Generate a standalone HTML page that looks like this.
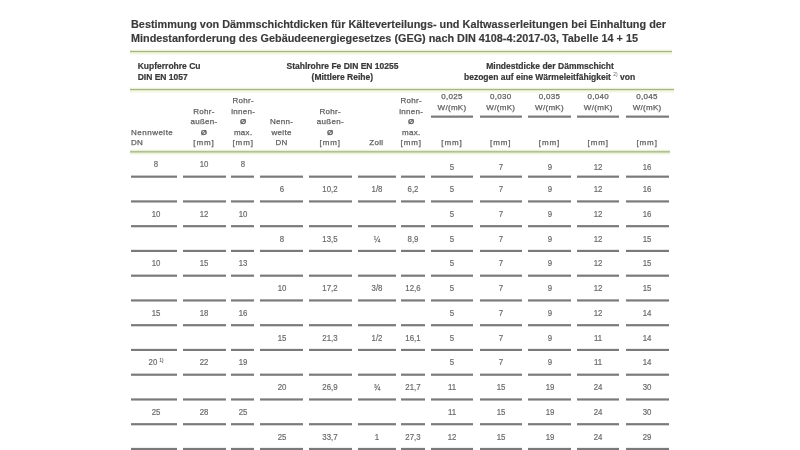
<!DOCTYPE html>
<html lang="de"><head><meta charset="utf-8"><title>Dämmschichtdicken</title>
<style>
html,body{margin:0;padding:0;background:#fff;}
body{width:800px;height:450px;overflow:hidden;font-family:"Liberation Sans", Arial, sans-serif;}
#pg{position:relative;width:800px;height:450px;overflow:hidden;background:#fff;}
.t{position:absolute;white-space:nowrap;}
.r{position:absolute;}
.u{position:absolute;height:1px;}
</style></head><body><div id="pg">
<div class="t" style="left:131.30px;top:17.79px;font-size:11px;line-height:12px;color:#3a3a3a;font-weight:700;transform:scaleX(0.988);transform-origin:left 0;-webkit-text-stroke:0.15px #3a3a3a;">Bestimmung von Dämmschichtdicken für Kälteverteilungs- und Kaltwasserleitungen bei Einhaltung der</div>
<div class="t" style="left:131.30px;top:31.59px;font-size:11px;line-height:12px;color:#3a3a3a;font-weight:700;transform:scaleX(0.986);transform-origin:left 0;-webkit-text-stroke:0.15px #3a3a3a;">Mindestanforderung des Gebäudeenergiegesetzes (GEG) nach DIN 4108-4:2017-03, Tabelle 14 + 15</div>
<div class="r" style="left:130px;top:49px;width:542px;height:1px;background:#fafcf1;"></div>
<div class="r" style="left:130px;top:50px;width:542px;height:1px;background:#e9f1d4;"></div>
<div class="r" style="left:130px;top:51px;width:542px;height:1px;background:#a6b38c;"></div>
<div class="r" style="left:130px;top:52px;width:542px;height:1px;background:#e4edca;"></div>
<div class="r" style="left:130px;top:53px;width:542px;height:1px;background:#f1f7e0;"></div>
<div class="r" style="left:130px;top:54px;width:542px;height:1px;background:#f9fbef;"></div>
<div class="r" style="left:130px;top:87px;width:544px;height:1px;background:#fafcf1;"></div>
<div class="r" style="left:130px;top:88px;width:544px;height:1px;background:#e9f1d4;"></div>
<div class="r" style="left:130px;top:89px;width:544px;height:1px;background:#a6b38c;"></div>
<div class="r" style="left:130px;top:90px;width:544px;height:1px;background:#e4edca;"></div>
<div class="r" style="left:130px;top:91px;width:544px;height:1px;background:#f1f7e0;"></div>
<div class="r" style="left:130px;top:92px;width:544px;height:1px;background:#f9fbef;"></div>
<div class="r" style="left:130px;top:149px;width:540px;height:1px;background:#f9fbf0;"></div>
<div class="r" style="left:130px;top:150px;width:540px;height:1px;background:#e8efd2;"></div>
<div class="r" style="left:130px;top:151px;width:540px;height:1px;background:#b3bf9b;"></div>
<div class="r" style="left:130px;top:152px;width:540px;height:1px;background:#c8d3b0;"></div>
<div class="r" style="left:130px;top:153px;width:540px;height:1px;background:#ecf3da;"></div>
<div class="r" style="left:130px;top:154px;width:540px;height:1px;background:#f7faec;"></div>
<div class="t" style="left:137.70px;top:59.95px;font-size:8.5px;line-height:12px;color:#383838;font-weight:700;-webkit-text-stroke:0.2px #383838;">Kupferrohre Cu</div>
<div class="t" style="left:137.70px;top:70.55px;font-size:8.5px;line-height:12px;color:#383838;font-weight:700;-webkit-text-stroke:0.2px #383838;">DIN EN 1057</div>
<div class="t" style="left:142.50px;top:59.95px;width:400px;text-align:center;font-size:8.5px;line-height:12px;color:#383838;font-weight:700;-webkit-text-stroke:0.2px #383838;">Stahlrohre Fe DIN EN 10255</div>
<div class="t" style="left:142.30px;top:70.55px;width:400px;text-align:center;font-size:8.5px;line-height:12px;color:#383838;font-weight:700;-webkit-text-stroke:0.2px #383838;">(Mittlere Reihe)</div>
<div class="t" style="left:350.00px;top:59.95px;width:400px;text-align:center;font-size:8.5px;line-height:12px;color:#383838;font-weight:700;-webkit-text-stroke:0.2px #383838;">Mindestdicke der Dämmschicht</div>
<div class="t" style="left:349.60px;top:70.55px;width:400px;text-align:center;font-size:8.5px;line-height:12px;color:#383838;font-weight:700;-webkit-text-stroke:0.2px #383838;">bezogen auf eine Wärmeleitfähigkeit <span style="font-size:5px;font-weight:400;position:relative;top:-3.5px;color:#666;-webkit-text-stroke:0">2)</span> von</div>
<div class="t" style="left:131.00px;top:126.73px;font-size:8px;line-height:12px;color:#5f5f5f;letter-spacing:0.3px;-webkit-text-stroke:0.25px #5f5f5f;letter-spacing:0.5px;">Nennweite</div>
<div class="t" style="left:131.00px;top:137.33px;font-size:8px;line-height:12px;color:#5f5f5f;letter-spacing:0.3px;-webkit-text-stroke:0.25px #5f5f5f;">DN</div>
<div class="t" style="left:4.00px;top:105.53px;width:400px;text-align:center;font-size:8px;line-height:12px;color:#5f5f5f;letter-spacing:0.3px;-webkit-text-stroke:0.25px #5f5f5f;">Rohr-</div>
<div class="t" style="left:4.00px;top:116.13px;width:400px;text-align:center;font-size:8px;line-height:12px;color:#5f5f5f;letter-spacing:0.3px;-webkit-text-stroke:0.25px #5f5f5f;">außen-</div>
<div class="t" style="left:4.00px;top:126.73px;width:400px;text-align:center;font-size:8px;line-height:12px;color:#5f5f5f;letter-spacing:0.3px;-webkit-text-stroke:0.25px #5f5f5f;"><b>Ø</b></div>
<div class="t" style="left:4.00px;top:137.33px;width:400px;text-align:center;font-size:8px;line-height:12px;color:#5f5f5f;letter-spacing:0.3px;-webkit-text-stroke:0.25px #5f5f5f;"><span style="letter-spacing:0.9px">[mm]</span></div>
<div class="t" style="left:130.30px;top:105.53px;width:400px;text-align:center;font-size:8px;line-height:12px;color:#5f5f5f;letter-spacing:0.3px;-webkit-text-stroke:0.25px #5f5f5f;">Rohr-</div>
<div class="t" style="left:130.30px;top:116.13px;width:400px;text-align:center;font-size:8px;line-height:12px;color:#5f5f5f;letter-spacing:0.3px;-webkit-text-stroke:0.25px #5f5f5f;">außen-</div>
<div class="t" style="left:130.30px;top:126.73px;width:400px;text-align:center;font-size:8px;line-height:12px;color:#5f5f5f;letter-spacing:0.3px;-webkit-text-stroke:0.25px #5f5f5f;"><b>Ø</b></div>
<div class="t" style="left:130.30px;top:137.33px;width:400px;text-align:center;font-size:8px;line-height:12px;color:#5f5f5f;letter-spacing:0.3px;-webkit-text-stroke:0.25px #5f5f5f;"><span style="letter-spacing:0.9px">[mm]</span></div>
<div class="t" style="left:43.20px;top:94.93px;width:400px;text-align:center;font-size:8px;line-height:12px;color:#5f5f5f;letter-spacing:0.3px;-webkit-text-stroke:0.25px #5f5f5f;">Rohr-</div>
<div class="t" style="left:43.20px;top:105.53px;width:400px;text-align:center;font-size:8px;line-height:12px;color:#5f5f5f;letter-spacing:0.3px;-webkit-text-stroke:0.25px #5f5f5f;">innen-</div>
<div class="t" style="left:43.20px;top:116.13px;width:400px;text-align:center;font-size:8px;line-height:12px;color:#5f5f5f;letter-spacing:0.3px;-webkit-text-stroke:0.25px #5f5f5f;"><b>Ø</b></div>
<div class="t" style="left:43.20px;top:126.73px;width:400px;text-align:center;font-size:8px;line-height:12px;color:#5f5f5f;letter-spacing:0.3px;-webkit-text-stroke:0.25px #5f5f5f;">max.</div>
<div class="t" style="left:43.20px;top:137.33px;width:400px;text-align:center;font-size:8px;line-height:12px;color:#5f5f5f;letter-spacing:0.3px;-webkit-text-stroke:0.25px #5f5f5f;"><span style="letter-spacing:0.9px">[mm]</span></div>
<div class="t" style="left:211.30px;top:94.93px;width:400px;text-align:center;font-size:8px;line-height:12px;color:#5f5f5f;letter-spacing:0.3px;-webkit-text-stroke:0.25px #5f5f5f;">Rohr-</div>
<div class="t" style="left:211.30px;top:105.53px;width:400px;text-align:center;font-size:8px;line-height:12px;color:#5f5f5f;letter-spacing:0.3px;-webkit-text-stroke:0.25px #5f5f5f;">innen-</div>
<div class="t" style="left:211.30px;top:116.13px;width:400px;text-align:center;font-size:8px;line-height:12px;color:#5f5f5f;letter-spacing:0.3px;-webkit-text-stroke:0.25px #5f5f5f;"><b>Ø</b></div>
<div class="t" style="left:211.30px;top:126.73px;width:400px;text-align:center;font-size:8px;line-height:12px;color:#5f5f5f;letter-spacing:0.3px;-webkit-text-stroke:0.25px #5f5f5f;">max.</div>
<div class="t" style="left:211.30px;top:137.33px;width:400px;text-align:center;font-size:8px;line-height:12px;color:#5f5f5f;letter-spacing:0.3px;-webkit-text-stroke:0.25px #5f5f5f;"><span style="letter-spacing:0.9px">[mm]</span></div>
<div class="t" style="left:81.60px;top:116.13px;width:400px;text-align:center;font-size:8px;line-height:12px;color:#5f5f5f;letter-spacing:0.3px;-webkit-text-stroke:0.25px #5f5f5f;">Nenn-</div>
<div class="t" style="left:81.60px;top:126.73px;width:400px;text-align:center;font-size:8px;line-height:12px;color:#5f5f5f;letter-spacing:0.3px;-webkit-text-stroke:0.25px #5f5f5f;">weite</div>
<div class="t" style="left:81.60px;top:137.33px;width:400px;text-align:center;font-size:8px;line-height:12px;color:#5f5f5f;letter-spacing:0.3px;-webkit-text-stroke:0.25px #5f5f5f;">DN</div>
<div class="t" style="left:176.40px;top:137.33px;width:400px;text-align:center;font-size:8px;line-height:12px;color:#5f5f5f;letter-spacing:0.3px;-webkit-text-stroke:0.25px #5f5f5f;">Zoll</div>
<div class="t" style="left:252.00px;top:90.93px;width:400px;text-align:center;font-size:8px;line-height:12px;color:#5f5f5f;letter-spacing:0.3px;-webkit-text-stroke:0.25px #5f5f5f;">0,025</div>
<div class="t" style="left:252.00px;top:101.63px;width:400px;text-align:center;font-size:8px;line-height:12px;color:#5f5f5f;letter-spacing:0.3px;-webkit-text-stroke:0.25px #5f5f5f;">W/(mK)</div>
<div class="t" style="left:252.00px;top:137.33px;width:400px;text-align:center;font-size:8px;line-height:12px;color:#5f5f5f;letter-spacing:0.3px;-webkit-text-stroke:0.25px #5f5f5f;letter-spacing:0.9px;">[mm]</div>
<div class="t" style="left:300.80px;top:90.93px;width:400px;text-align:center;font-size:8px;line-height:12px;color:#5f5f5f;letter-spacing:0.3px;-webkit-text-stroke:0.25px #5f5f5f;">0,030</div>
<div class="t" style="left:300.80px;top:101.63px;width:400px;text-align:center;font-size:8px;line-height:12px;color:#5f5f5f;letter-spacing:0.3px;-webkit-text-stroke:0.25px #5f5f5f;">W/(mK)</div>
<div class="t" style="left:300.80px;top:137.33px;width:400px;text-align:center;font-size:8px;line-height:12px;color:#5f5f5f;letter-spacing:0.3px;-webkit-text-stroke:0.25px #5f5f5f;letter-spacing:0.9px;">[mm]</div>
<div class="t" style="left:349.50px;top:90.93px;width:400px;text-align:center;font-size:8px;line-height:12px;color:#5f5f5f;letter-spacing:0.3px;-webkit-text-stroke:0.25px #5f5f5f;">0,035</div>
<div class="t" style="left:349.50px;top:101.63px;width:400px;text-align:center;font-size:8px;line-height:12px;color:#5f5f5f;letter-spacing:0.3px;-webkit-text-stroke:0.25px #5f5f5f;">W/(mK)</div>
<div class="t" style="left:349.50px;top:137.33px;width:400px;text-align:center;font-size:8px;line-height:12px;color:#5f5f5f;letter-spacing:0.3px;-webkit-text-stroke:0.25px #5f5f5f;letter-spacing:0.9px;">[mm]</div>
<div class="t" style="left:398.30px;top:90.93px;width:400px;text-align:center;font-size:8px;line-height:12px;color:#5f5f5f;letter-spacing:0.3px;-webkit-text-stroke:0.25px #5f5f5f;">0,040</div>
<div class="t" style="left:398.30px;top:101.63px;width:400px;text-align:center;font-size:8px;line-height:12px;color:#5f5f5f;letter-spacing:0.3px;-webkit-text-stroke:0.25px #5f5f5f;">W/(mK)</div>
<div class="t" style="left:398.30px;top:137.33px;width:400px;text-align:center;font-size:8px;line-height:12px;color:#5f5f5f;letter-spacing:0.3px;-webkit-text-stroke:0.25px #5f5f5f;letter-spacing:0.9px;">[mm]</div>
<div class="t" style="left:447.10px;top:90.93px;width:400px;text-align:center;font-size:8px;line-height:12px;color:#5f5f5f;letter-spacing:0.3px;-webkit-text-stroke:0.25px #5f5f5f;">0,045</div>
<div class="t" style="left:447.10px;top:101.63px;width:400px;text-align:center;font-size:8px;line-height:12px;color:#5f5f5f;letter-spacing:0.3px;-webkit-text-stroke:0.25px #5f5f5f;">W/(mK)</div>
<div class="t" style="left:447.10px;top:137.33px;width:400px;text-align:center;font-size:8px;line-height:12px;color:#5f5f5f;letter-spacing:0.3px;-webkit-text-stroke:0.25px #5f5f5f;letter-spacing:0.9px;">[mm]</div>
<div class="u" style="left:431px;top:116px;width:42px;background:#7a7a7a;box-shadow:0 -1px 0 #c3c3c3,0 1px 0 #9b9b9b"></div>
<div class="u" style="left:480px;top:116px;width:42px;background:#7a7a7a;box-shadow:0 -1px 0 #c3c3c3,0 1px 0 #9b9b9b"></div>
<div class="u" style="left:528px;top:116px;width:43px;background:#7a7a7a;box-shadow:0 -1px 0 #c3c3c3,0 1px 0 #9b9b9b"></div>
<div class="u" style="left:577px;top:116px;width:42px;background:#7a7a7a;box-shadow:0 -1px 0 #c3c3c3,0 1px 0 #9b9b9b"></div>
<div class="u" style="left:626px;top:116px;width:43px;background:#7a7a7a;box-shadow:0 -1px 0 #c3c3c3,0 1px 0 #9b9b9b"></div>
<div class="t" style="left:-43.80px;top:158.38px;width:400px;text-align:center;font-size:9px;line-height:12px;color:#6a6a6a;transform:scaleX(0.87);transform-origin:center 0;-webkit-text-stroke:0.2px #6a6a6a;">8</div>
<div class="t" style="left:4.30px;top:158.38px;width:400px;text-align:center;font-size:9px;line-height:12px;color:#6a6a6a;transform:scaleX(0.87);transform-origin:center 0;-webkit-text-stroke:0.2px #6a6a6a;">10</div>
<div class="t" style="left:42.90px;top:158.38px;width:400px;text-align:center;font-size:9px;line-height:12px;color:#6a6a6a;transform:scaleX(0.87);transform-origin:center 0;-webkit-text-stroke:0.2px #6a6a6a;">8</div>
<div class="t" style="left:252.00px;top:161.38px;width:400px;text-align:center;font-size:9px;line-height:12px;color:#6a6a6a;transform:scaleX(0.87);transform-origin:center 0;-webkit-text-stroke:0.2px #6a6a6a;">5</div>
<div class="t" style="left:300.80px;top:161.38px;width:400px;text-align:center;font-size:9px;line-height:12px;color:#6a6a6a;transform:scaleX(0.87);transform-origin:center 0;-webkit-text-stroke:0.2px #6a6a6a;">7</div>
<div class="t" style="left:349.50px;top:161.38px;width:400px;text-align:center;font-size:9px;line-height:12px;color:#6a6a6a;transform:scaleX(0.87);transform-origin:center 0;-webkit-text-stroke:0.2px #6a6a6a;">9</div>
<div class="t" style="left:398.30px;top:161.38px;width:400px;text-align:center;font-size:9px;line-height:12px;color:#6a6a6a;transform:scaleX(0.87);transform-origin:center 0;-webkit-text-stroke:0.2px #6a6a6a;">12</div>
<div class="t" style="left:447.10px;top:161.38px;width:400px;text-align:center;font-size:9px;line-height:12px;color:#6a6a6a;transform:scaleX(0.87);transform-origin:center 0;-webkit-text-stroke:0.2px #6a6a6a;">16</div>
<div class="u" style="left:131px;top:176px;width:46px;background:#7a7a7a;box-shadow:0 -1px 0 #c6c6c6,0 1px 0 #999999"></div>
<div class="u" style="left:183px;top:176px;width:43px;background:#7a7a7a;box-shadow:0 -1px 0 #c6c6c6,0 1px 0 #999999"></div>
<div class="u" style="left:231px;top:176px;width:23px;background:#7a7a7a;box-shadow:0 -1px 0 #c6c6c6,0 1px 0 #999999"></div>
<div class="u" style="left:260px;top:176px;width:43px;background:#7a7a7a;box-shadow:0 -1px 0 #c6c6c6,0 1px 0 #999999"></div>
<div class="u" style="left:309px;top:176px;width:43px;background:#7a7a7a;box-shadow:0 -1px 0 #c6c6c6,0 1px 0 #999999"></div>
<div class="u" style="left:358px;top:176px;width:38px;background:#7a7a7a;box-shadow:0 -1px 0 #c6c6c6,0 1px 0 #999999"></div>
<div class="u" style="left:401px;top:176px;width:24px;background:#7a7a7a;box-shadow:0 -1px 0 #c6c6c6,0 1px 0 #999999"></div>
<div class="u" style="left:431px;top:176px;width:42px;background:#7a7a7a;box-shadow:0 -1px 0 #c6c6c6,0 1px 0 #999999"></div>
<div class="u" style="left:480px;top:176px;width:42px;background:#7a7a7a;box-shadow:0 -1px 0 #c6c6c6,0 1px 0 #999999"></div>
<div class="u" style="left:528px;top:176px;width:43px;background:#7a7a7a;box-shadow:0 -1px 0 #c6c6c6,0 1px 0 #999999"></div>
<div class="u" style="left:577px;top:176px;width:42px;background:#7a7a7a;box-shadow:0 -1px 0 #c6c6c6,0 1px 0 #999999"></div>
<div class="u" style="left:626px;top:176px;width:43px;background:#7a7a7a;box-shadow:0 -1px 0 #c6c6c6,0 1px 0 #999999"></div>
<div class="t" style="left:81.50px;top:183.13px;width:400px;text-align:center;font-size:9px;line-height:12px;color:#6a6a6a;transform:scaleX(0.87);transform-origin:center 0;-webkit-text-stroke:0.2px #6a6a6a;">6</div>
<div class="t" style="left:130.40px;top:183.13px;width:400px;text-align:center;font-size:9px;line-height:12px;color:#6a6a6a;transform:scaleX(0.87);transform-origin:center 0;-webkit-text-stroke:0.2px #6a6a6a;">10,2</div>
<div class="t" style="left:176.80px;top:183.13px;width:400px;text-align:center;font-size:9px;line-height:12px;color:#6a6a6a;transform:scaleX(0.87);transform-origin:center 0;-webkit-text-stroke:0.2px #6a6a6a;">1/8</div>
<div class="t" style="left:213.00px;top:183.13px;width:400px;text-align:center;font-size:9px;line-height:12px;color:#6a6a6a;transform:scaleX(0.87);transform-origin:center 0;-webkit-text-stroke:0.2px #6a6a6a;">6,2</div>
<div class="t" style="left:252.00px;top:183.13px;width:400px;text-align:center;font-size:9px;line-height:12px;color:#6a6a6a;transform:scaleX(0.87);transform-origin:center 0;-webkit-text-stroke:0.2px #6a6a6a;">5</div>
<div class="t" style="left:300.80px;top:183.13px;width:400px;text-align:center;font-size:9px;line-height:12px;color:#6a6a6a;transform:scaleX(0.87);transform-origin:center 0;-webkit-text-stroke:0.2px #6a6a6a;">7</div>
<div class="t" style="left:349.50px;top:183.13px;width:400px;text-align:center;font-size:9px;line-height:12px;color:#6a6a6a;transform:scaleX(0.87);transform-origin:center 0;-webkit-text-stroke:0.2px #6a6a6a;">9</div>
<div class="t" style="left:398.30px;top:183.13px;width:400px;text-align:center;font-size:9px;line-height:12px;color:#6a6a6a;transform:scaleX(0.87);transform-origin:center 0;-webkit-text-stroke:0.2px #6a6a6a;">12</div>
<div class="t" style="left:447.10px;top:183.13px;width:400px;text-align:center;font-size:9px;line-height:12px;color:#6a6a6a;transform:scaleX(0.87);transform-origin:center 0;-webkit-text-stroke:0.2px #6a6a6a;">16</div>
<div class="u" style="left:131px;top:201px;width:46px;background:#7a7a7a;box-shadow:0 -1px 0 #a5a5a5,0 1px 0 #b9b9b9"></div>
<div class="u" style="left:183px;top:201px;width:43px;background:#7a7a7a;box-shadow:0 -1px 0 #a5a5a5,0 1px 0 #b9b9b9"></div>
<div class="u" style="left:231px;top:201px;width:23px;background:#7a7a7a;box-shadow:0 -1px 0 #a5a5a5,0 1px 0 #b9b9b9"></div>
<div class="u" style="left:260px;top:201px;width:43px;background:#7a7a7a;box-shadow:0 -1px 0 #a5a5a5,0 1px 0 #b9b9b9"></div>
<div class="u" style="left:309px;top:201px;width:43px;background:#7a7a7a;box-shadow:0 -1px 0 #a5a5a5,0 1px 0 #b9b9b9"></div>
<div class="u" style="left:358px;top:201px;width:38px;background:#7a7a7a;box-shadow:0 -1px 0 #a5a5a5,0 1px 0 #b9b9b9"></div>
<div class="u" style="left:401px;top:201px;width:24px;background:#7a7a7a;box-shadow:0 -1px 0 #a5a5a5,0 1px 0 #b9b9b9"></div>
<div class="u" style="left:431px;top:201px;width:42px;background:#7a7a7a;box-shadow:0 -1px 0 #a5a5a5,0 1px 0 #b9b9b9"></div>
<div class="u" style="left:480px;top:201px;width:42px;background:#7a7a7a;box-shadow:0 -1px 0 #a5a5a5,0 1px 0 #b9b9b9"></div>
<div class="u" style="left:528px;top:201px;width:43px;background:#7a7a7a;box-shadow:0 -1px 0 #a5a5a5,0 1px 0 #b9b9b9"></div>
<div class="u" style="left:577px;top:201px;width:42px;background:#7a7a7a;box-shadow:0 -1px 0 #a5a5a5,0 1px 0 #b9b9b9"></div>
<div class="u" style="left:626px;top:201px;width:43px;background:#7a7a7a;box-shadow:0 -1px 0 #a5a5a5,0 1px 0 #b9b9b9"></div>
<div class="t" style="left:-43.80px;top:207.87px;width:400px;text-align:center;font-size:9px;line-height:12px;color:#6a6a6a;transform:scaleX(0.87);transform-origin:center 0;-webkit-text-stroke:0.2px #6a6a6a;">10</div>
<div class="t" style="left:4.30px;top:207.87px;width:400px;text-align:center;font-size:9px;line-height:12px;color:#6a6a6a;transform:scaleX(0.87);transform-origin:center 0;-webkit-text-stroke:0.2px #6a6a6a;">12</div>
<div class="t" style="left:42.90px;top:207.87px;width:400px;text-align:center;font-size:9px;line-height:12px;color:#6a6a6a;transform:scaleX(0.87);transform-origin:center 0;-webkit-text-stroke:0.2px #6a6a6a;">10</div>
<div class="t" style="left:252.00px;top:207.87px;width:400px;text-align:center;font-size:9px;line-height:12px;color:#6a6a6a;transform:scaleX(0.87);transform-origin:center 0;-webkit-text-stroke:0.2px #6a6a6a;">5</div>
<div class="t" style="left:300.80px;top:207.87px;width:400px;text-align:center;font-size:9px;line-height:12px;color:#6a6a6a;transform:scaleX(0.87);transform-origin:center 0;-webkit-text-stroke:0.2px #6a6a6a;">7</div>
<div class="t" style="left:349.50px;top:207.87px;width:400px;text-align:center;font-size:9px;line-height:12px;color:#6a6a6a;transform:scaleX(0.87);transform-origin:center 0;-webkit-text-stroke:0.2px #6a6a6a;">9</div>
<div class="t" style="left:398.30px;top:207.87px;width:400px;text-align:center;font-size:9px;line-height:12px;color:#6a6a6a;transform:scaleX(0.87);transform-origin:center 0;-webkit-text-stroke:0.2px #6a6a6a;">12</div>
<div class="t" style="left:447.10px;top:207.87px;width:400px;text-align:center;font-size:9px;line-height:12px;color:#6a6a6a;transform:scaleX(0.87);transform-origin:center 0;-webkit-text-stroke:0.2px #6a6a6a;">16</div>
<div class="u" style="left:131px;top:226px;width:46px;background:#7a7a7a;box-shadow:0 -1px 0 #858585,0 1px 0 #dadada"></div>
<div class="u" style="left:183px;top:226px;width:43px;background:#7a7a7a;box-shadow:0 -1px 0 #858585,0 1px 0 #dadada"></div>
<div class="u" style="left:231px;top:226px;width:23px;background:#7a7a7a;box-shadow:0 -1px 0 #858585,0 1px 0 #dadada"></div>
<div class="u" style="left:260px;top:226px;width:43px;background:#7a7a7a;box-shadow:0 -1px 0 #858585,0 1px 0 #dadada"></div>
<div class="u" style="left:309px;top:226px;width:43px;background:#7a7a7a;box-shadow:0 -1px 0 #858585,0 1px 0 #dadada"></div>
<div class="u" style="left:358px;top:226px;width:38px;background:#7a7a7a;box-shadow:0 -1px 0 #858585,0 1px 0 #dadada"></div>
<div class="u" style="left:401px;top:226px;width:24px;background:#7a7a7a;box-shadow:0 -1px 0 #858585,0 1px 0 #dadada"></div>
<div class="u" style="left:431px;top:226px;width:42px;background:#7a7a7a;box-shadow:0 -1px 0 #858585,0 1px 0 #dadada"></div>
<div class="u" style="left:480px;top:226px;width:42px;background:#7a7a7a;box-shadow:0 -1px 0 #858585,0 1px 0 #dadada"></div>
<div class="u" style="left:528px;top:226px;width:43px;background:#7a7a7a;box-shadow:0 -1px 0 #858585,0 1px 0 #dadada"></div>
<div class="u" style="left:577px;top:226px;width:42px;background:#7a7a7a;box-shadow:0 -1px 0 #858585,0 1px 0 #dadada"></div>
<div class="u" style="left:626px;top:226px;width:43px;background:#7a7a7a;box-shadow:0 -1px 0 #858585,0 1px 0 #dadada"></div>
<div class="t" style="left:81.50px;top:232.62px;width:400px;text-align:center;font-size:9px;line-height:12px;color:#6a6a6a;transform:scaleX(0.87);transform-origin:center 0;-webkit-text-stroke:0.2px #6a6a6a;">8</div>
<div class="t" style="left:130.40px;top:232.62px;width:400px;text-align:center;font-size:9px;line-height:12px;color:#6a6a6a;transform:scaleX(0.87);transform-origin:center 0;-webkit-text-stroke:0.2px #6a6a6a;">13,5</div>
<div class="t" style="left:176.80px;top:232.62px;width:400px;text-align:center;font-size:9px;line-height:12px;color:#6a6a6a;transform:scaleX(0.87);transform-origin:center 0;-webkit-text-stroke:0.2px #6a6a6a;">¼</div>
<div class="t" style="left:213.00px;top:232.62px;width:400px;text-align:center;font-size:9px;line-height:12px;color:#6a6a6a;transform:scaleX(0.87);transform-origin:center 0;-webkit-text-stroke:0.2px #6a6a6a;">8,9</div>
<div class="t" style="left:252.00px;top:232.62px;width:400px;text-align:center;font-size:9px;line-height:12px;color:#6a6a6a;transform:scaleX(0.87);transform-origin:center 0;-webkit-text-stroke:0.2px #6a6a6a;">5</div>
<div class="t" style="left:300.80px;top:232.62px;width:400px;text-align:center;font-size:9px;line-height:12px;color:#6a6a6a;transform:scaleX(0.87);transform-origin:center 0;-webkit-text-stroke:0.2px #6a6a6a;">7</div>
<div class="t" style="left:349.50px;top:232.62px;width:400px;text-align:center;font-size:9px;line-height:12px;color:#6a6a6a;transform:scaleX(0.87);transform-origin:center 0;-webkit-text-stroke:0.2px #6a6a6a;">9</div>
<div class="t" style="left:398.30px;top:232.62px;width:400px;text-align:center;font-size:9px;line-height:12px;color:#6a6a6a;transform:scaleX(0.87);transform-origin:center 0;-webkit-text-stroke:0.2px #6a6a6a;">12</div>
<div class="t" style="left:447.10px;top:232.62px;width:400px;text-align:center;font-size:9px;line-height:12px;color:#6a6a6a;transform:scaleX(0.87);transform-origin:center 0;-webkit-text-stroke:0.2px #6a6a6a;">15</div>
<div class="u" style="left:131px;top:250px;width:46px;background:#7a7a7a;box-shadow:0 -1px 0 #e9e9e9,0 1px 0 #7a7a7a"></div>
<div class="u" style="left:183px;top:250px;width:43px;background:#7a7a7a;box-shadow:0 -1px 0 #e9e9e9,0 1px 0 #7a7a7a"></div>
<div class="u" style="left:231px;top:250px;width:23px;background:#7a7a7a;box-shadow:0 -1px 0 #e9e9e9,0 1px 0 #7a7a7a"></div>
<div class="u" style="left:260px;top:250px;width:43px;background:#7a7a7a;box-shadow:0 -1px 0 #e9e9e9,0 1px 0 #7a7a7a"></div>
<div class="u" style="left:309px;top:250px;width:43px;background:#7a7a7a;box-shadow:0 -1px 0 #e9e9e9,0 1px 0 #7a7a7a"></div>
<div class="u" style="left:358px;top:250px;width:38px;background:#7a7a7a;box-shadow:0 -1px 0 #e9e9e9,0 1px 0 #7a7a7a"></div>
<div class="u" style="left:401px;top:250px;width:24px;background:#7a7a7a;box-shadow:0 -1px 0 #e9e9e9,0 1px 0 #7a7a7a"></div>
<div class="u" style="left:431px;top:250px;width:42px;background:#7a7a7a;box-shadow:0 -1px 0 #e9e9e9,0 1px 0 #7a7a7a"></div>
<div class="u" style="left:480px;top:250px;width:42px;background:#7a7a7a;box-shadow:0 -1px 0 #e9e9e9,0 1px 0 #7a7a7a"></div>
<div class="u" style="left:528px;top:250px;width:43px;background:#7a7a7a;box-shadow:0 -1px 0 #e9e9e9,0 1px 0 #7a7a7a"></div>
<div class="u" style="left:577px;top:250px;width:42px;background:#7a7a7a;box-shadow:0 -1px 0 #e9e9e9,0 1px 0 #7a7a7a"></div>
<div class="u" style="left:626px;top:250px;width:43px;background:#7a7a7a;box-shadow:0 -1px 0 #e9e9e9,0 1px 0 #7a7a7a"></div>
<div class="t" style="left:-43.80px;top:257.36px;width:400px;text-align:center;font-size:9px;line-height:12px;color:#6a6a6a;transform:scaleX(0.87);transform-origin:center 0;-webkit-text-stroke:0.2px #6a6a6a;">10</div>
<div class="t" style="left:4.30px;top:257.36px;width:400px;text-align:center;font-size:9px;line-height:12px;color:#6a6a6a;transform:scaleX(0.87);transform-origin:center 0;-webkit-text-stroke:0.2px #6a6a6a;">15</div>
<div class="t" style="left:42.90px;top:257.36px;width:400px;text-align:center;font-size:9px;line-height:12px;color:#6a6a6a;transform:scaleX(0.87);transform-origin:center 0;-webkit-text-stroke:0.2px #6a6a6a;">13</div>
<div class="t" style="left:252.00px;top:257.36px;width:400px;text-align:center;font-size:9px;line-height:12px;color:#6a6a6a;transform:scaleX(0.87);transform-origin:center 0;-webkit-text-stroke:0.2px #6a6a6a;">5</div>
<div class="t" style="left:300.80px;top:257.36px;width:400px;text-align:center;font-size:9px;line-height:12px;color:#6a6a6a;transform:scaleX(0.87);transform-origin:center 0;-webkit-text-stroke:0.2px #6a6a6a;">7</div>
<div class="t" style="left:349.50px;top:257.36px;width:400px;text-align:center;font-size:9px;line-height:12px;color:#6a6a6a;transform:scaleX(0.87);transform-origin:center 0;-webkit-text-stroke:0.2px #6a6a6a;">9</div>
<div class="t" style="left:398.30px;top:257.36px;width:400px;text-align:center;font-size:9px;line-height:12px;color:#6a6a6a;transform:scaleX(0.87);transform-origin:center 0;-webkit-text-stroke:0.2px #6a6a6a;">12</div>
<div class="t" style="left:447.10px;top:257.36px;width:400px;text-align:center;font-size:9px;line-height:12px;color:#6a6a6a;transform:scaleX(0.87);transform-origin:center 0;-webkit-text-stroke:0.2px #6a6a6a;">15</div>
<div class="u" style="left:131px;top:275px;width:46px;background:#7a7a7a;box-shadow:0 -1px 0 #c8c8c8,0 1px 0 #969696"></div>
<div class="u" style="left:183px;top:275px;width:43px;background:#7a7a7a;box-shadow:0 -1px 0 #c8c8c8,0 1px 0 #969696"></div>
<div class="u" style="left:231px;top:275px;width:23px;background:#7a7a7a;box-shadow:0 -1px 0 #c8c8c8,0 1px 0 #969696"></div>
<div class="u" style="left:260px;top:275px;width:43px;background:#7a7a7a;box-shadow:0 -1px 0 #c8c8c8,0 1px 0 #969696"></div>
<div class="u" style="left:309px;top:275px;width:43px;background:#7a7a7a;box-shadow:0 -1px 0 #c8c8c8,0 1px 0 #969696"></div>
<div class="u" style="left:358px;top:275px;width:38px;background:#7a7a7a;box-shadow:0 -1px 0 #c8c8c8,0 1px 0 #969696"></div>
<div class="u" style="left:401px;top:275px;width:24px;background:#7a7a7a;box-shadow:0 -1px 0 #c8c8c8,0 1px 0 #969696"></div>
<div class="u" style="left:431px;top:275px;width:42px;background:#7a7a7a;box-shadow:0 -1px 0 #c8c8c8,0 1px 0 #969696"></div>
<div class="u" style="left:480px;top:275px;width:42px;background:#7a7a7a;box-shadow:0 -1px 0 #c8c8c8,0 1px 0 #969696"></div>
<div class="u" style="left:528px;top:275px;width:43px;background:#7a7a7a;box-shadow:0 -1px 0 #c8c8c8,0 1px 0 #969696"></div>
<div class="u" style="left:577px;top:275px;width:42px;background:#7a7a7a;box-shadow:0 -1px 0 #c8c8c8,0 1px 0 #969696"></div>
<div class="u" style="left:626px;top:275px;width:43px;background:#7a7a7a;box-shadow:0 -1px 0 #c8c8c8,0 1px 0 #969696"></div>
<div class="t" style="left:81.50px;top:282.11px;width:400px;text-align:center;font-size:9px;line-height:12px;color:#6a6a6a;transform:scaleX(0.87);transform-origin:center 0;-webkit-text-stroke:0.2px #6a6a6a;">10</div>
<div class="t" style="left:130.40px;top:282.11px;width:400px;text-align:center;font-size:9px;line-height:12px;color:#6a6a6a;transform:scaleX(0.87);transform-origin:center 0;-webkit-text-stroke:0.2px #6a6a6a;">17,2</div>
<div class="t" style="left:176.80px;top:282.11px;width:400px;text-align:center;font-size:9px;line-height:12px;color:#6a6a6a;transform:scaleX(0.87);transform-origin:center 0;-webkit-text-stroke:0.2px #6a6a6a;">3/8</div>
<div class="t" style="left:213.00px;top:282.11px;width:400px;text-align:center;font-size:9px;line-height:12px;color:#6a6a6a;transform:scaleX(0.87);transform-origin:center 0;-webkit-text-stroke:0.2px #6a6a6a;">12,6</div>
<div class="t" style="left:252.00px;top:282.11px;width:400px;text-align:center;font-size:9px;line-height:12px;color:#6a6a6a;transform:scaleX(0.87);transform-origin:center 0;-webkit-text-stroke:0.2px #6a6a6a;">5</div>
<div class="t" style="left:300.80px;top:282.11px;width:400px;text-align:center;font-size:9px;line-height:12px;color:#6a6a6a;transform:scaleX(0.87);transform-origin:center 0;-webkit-text-stroke:0.2px #6a6a6a;">7</div>
<div class="t" style="left:349.50px;top:282.11px;width:400px;text-align:center;font-size:9px;line-height:12px;color:#6a6a6a;transform:scaleX(0.87);transform-origin:center 0;-webkit-text-stroke:0.2px #6a6a6a;">9</div>
<div class="t" style="left:398.30px;top:282.11px;width:400px;text-align:center;font-size:9px;line-height:12px;color:#6a6a6a;transform:scaleX(0.87);transform-origin:center 0;-webkit-text-stroke:0.2px #6a6a6a;">12</div>
<div class="t" style="left:447.10px;top:282.11px;width:400px;text-align:center;font-size:9px;line-height:12px;color:#6a6a6a;transform:scaleX(0.87);transform-origin:center 0;-webkit-text-stroke:0.2px #6a6a6a;">15</div>
<div class="u" style="left:131px;top:300px;width:46px;background:#7a7a7a;box-shadow:0 -1px 0 #a8a8a8,0 1px 0 #b7b7b7"></div>
<div class="u" style="left:183px;top:300px;width:43px;background:#7a7a7a;box-shadow:0 -1px 0 #a8a8a8,0 1px 0 #b7b7b7"></div>
<div class="u" style="left:231px;top:300px;width:23px;background:#7a7a7a;box-shadow:0 -1px 0 #a8a8a8,0 1px 0 #b7b7b7"></div>
<div class="u" style="left:260px;top:300px;width:43px;background:#7a7a7a;box-shadow:0 -1px 0 #a8a8a8,0 1px 0 #b7b7b7"></div>
<div class="u" style="left:309px;top:300px;width:43px;background:#7a7a7a;box-shadow:0 -1px 0 #a8a8a8,0 1px 0 #b7b7b7"></div>
<div class="u" style="left:358px;top:300px;width:38px;background:#7a7a7a;box-shadow:0 -1px 0 #a8a8a8,0 1px 0 #b7b7b7"></div>
<div class="u" style="left:401px;top:300px;width:24px;background:#7a7a7a;box-shadow:0 -1px 0 #a8a8a8,0 1px 0 #b7b7b7"></div>
<div class="u" style="left:431px;top:300px;width:42px;background:#7a7a7a;box-shadow:0 -1px 0 #a8a8a8,0 1px 0 #b7b7b7"></div>
<div class="u" style="left:480px;top:300px;width:42px;background:#7a7a7a;box-shadow:0 -1px 0 #a8a8a8,0 1px 0 #b7b7b7"></div>
<div class="u" style="left:528px;top:300px;width:43px;background:#7a7a7a;box-shadow:0 -1px 0 #a8a8a8,0 1px 0 #b7b7b7"></div>
<div class="u" style="left:577px;top:300px;width:42px;background:#7a7a7a;box-shadow:0 -1px 0 #a8a8a8,0 1px 0 #b7b7b7"></div>
<div class="u" style="left:626px;top:300px;width:43px;background:#7a7a7a;box-shadow:0 -1px 0 #a8a8a8,0 1px 0 #b7b7b7"></div>
<div class="t" style="left:-43.80px;top:306.85px;width:400px;text-align:center;font-size:9px;line-height:12px;color:#6a6a6a;transform:scaleX(0.87);transform-origin:center 0;-webkit-text-stroke:0.2px #6a6a6a;">15</div>
<div class="t" style="left:4.30px;top:306.85px;width:400px;text-align:center;font-size:9px;line-height:12px;color:#6a6a6a;transform:scaleX(0.87);transform-origin:center 0;-webkit-text-stroke:0.2px #6a6a6a;">18</div>
<div class="t" style="left:42.90px;top:306.85px;width:400px;text-align:center;font-size:9px;line-height:12px;color:#6a6a6a;transform:scaleX(0.87);transform-origin:center 0;-webkit-text-stroke:0.2px #6a6a6a;">16</div>
<div class="t" style="left:252.00px;top:306.85px;width:400px;text-align:center;font-size:9px;line-height:12px;color:#6a6a6a;transform:scaleX(0.87);transform-origin:center 0;-webkit-text-stroke:0.2px #6a6a6a;">5</div>
<div class="t" style="left:300.80px;top:306.85px;width:400px;text-align:center;font-size:9px;line-height:12px;color:#6a6a6a;transform:scaleX(0.87);transform-origin:center 0;-webkit-text-stroke:0.2px #6a6a6a;">7</div>
<div class="t" style="left:349.50px;top:306.85px;width:400px;text-align:center;font-size:9px;line-height:12px;color:#6a6a6a;transform:scaleX(0.87);transform-origin:center 0;-webkit-text-stroke:0.2px #6a6a6a;">9</div>
<div class="t" style="left:398.30px;top:306.85px;width:400px;text-align:center;font-size:9px;line-height:12px;color:#6a6a6a;transform:scaleX(0.87);transform-origin:center 0;-webkit-text-stroke:0.2px #6a6a6a;">12</div>
<div class="t" style="left:447.10px;top:306.85px;width:400px;text-align:center;font-size:9px;line-height:12px;color:#6a6a6a;transform:scaleX(0.87);transform-origin:center 0;-webkit-text-stroke:0.2px #6a6a6a;">14</div>
<div class="u" style="left:131px;top:325px;width:46px;background:#7a7a7a;box-shadow:0 -1px 0 #878787,0 1px 0 #d7d7d7"></div>
<div class="u" style="left:183px;top:325px;width:43px;background:#7a7a7a;box-shadow:0 -1px 0 #878787,0 1px 0 #d7d7d7"></div>
<div class="u" style="left:231px;top:325px;width:23px;background:#7a7a7a;box-shadow:0 -1px 0 #878787,0 1px 0 #d7d7d7"></div>
<div class="u" style="left:260px;top:325px;width:43px;background:#7a7a7a;box-shadow:0 -1px 0 #878787,0 1px 0 #d7d7d7"></div>
<div class="u" style="left:309px;top:325px;width:43px;background:#7a7a7a;box-shadow:0 -1px 0 #878787,0 1px 0 #d7d7d7"></div>
<div class="u" style="left:358px;top:325px;width:38px;background:#7a7a7a;box-shadow:0 -1px 0 #878787,0 1px 0 #d7d7d7"></div>
<div class="u" style="left:401px;top:325px;width:24px;background:#7a7a7a;box-shadow:0 -1px 0 #878787,0 1px 0 #d7d7d7"></div>
<div class="u" style="left:431px;top:325px;width:42px;background:#7a7a7a;box-shadow:0 -1px 0 #878787,0 1px 0 #d7d7d7"></div>
<div class="u" style="left:480px;top:325px;width:42px;background:#7a7a7a;box-shadow:0 -1px 0 #878787,0 1px 0 #d7d7d7"></div>
<div class="u" style="left:528px;top:325px;width:43px;background:#7a7a7a;box-shadow:0 -1px 0 #878787,0 1px 0 #d7d7d7"></div>
<div class="u" style="left:577px;top:325px;width:42px;background:#7a7a7a;box-shadow:0 -1px 0 #878787,0 1px 0 #d7d7d7"></div>
<div class="u" style="left:626px;top:325px;width:43px;background:#7a7a7a;box-shadow:0 -1px 0 #878787,0 1px 0 #d7d7d7"></div>
<div class="t" style="left:81.50px;top:331.60px;width:400px;text-align:center;font-size:9px;line-height:12px;color:#6a6a6a;transform:scaleX(0.87);transform-origin:center 0;-webkit-text-stroke:0.2px #6a6a6a;">15</div>
<div class="t" style="left:130.40px;top:331.60px;width:400px;text-align:center;font-size:9px;line-height:12px;color:#6a6a6a;transform:scaleX(0.87);transform-origin:center 0;-webkit-text-stroke:0.2px #6a6a6a;">21,3</div>
<div class="t" style="left:176.80px;top:331.60px;width:400px;text-align:center;font-size:9px;line-height:12px;color:#6a6a6a;transform:scaleX(0.87);transform-origin:center 0;-webkit-text-stroke:0.2px #6a6a6a;">1/2</div>
<div class="t" style="left:213.00px;top:331.60px;width:400px;text-align:center;font-size:9px;line-height:12px;color:#6a6a6a;transform:scaleX(0.87);transform-origin:center 0;-webkit-text-stroke:0.2px #6a6a6a;">16,1</div>
<div class="t" style="left:252.00px;top:331.60px;width:400px;text-align:center;font-size:9px;line-height:12px;color:#6a6a6a;transform:scaleX(0.87);transform-origin:center 0;-webkit-text-stroke:0.2px #6a6a6a;">5</div>
<div class="t" style="left:300.80px;top:331.60px;width:400px;text-align:center;font-size:9px;line-height:12px;color:#6a6a6a;transform:scaleX(0.87);transform-origin:center 0;-webkit-text-stroke:0.2px #6a6a6a;">7</div>
<div class="t" style="left:349.50px;top:331.60px;width:400px;text-align:center;font-size:9px;line-height:12px;color:#6a6a6a;transform:scaleX(0.87);transform-origin:center 0;-webkit-text-stroke:0.2px #6a6a6a;">9</div>
<div class="t" style="left:398.30px;top:331.60px;width:400px;text-align:center;font-size:9px;line-height:12px;color:#6a6a6a;transform:scaleX(0.87);transform-origin:center 0;-webkit-text-stroke:0.2px #6a6a6a;">11</div>
<div class="t" style="left:447.10px;top:331.60px;width:400px;text-align:center;font-size:9px;line-height:12px;color:#6a6a6a;transform:scaleX(0.87);transform-origin:center 0;-webkit-text-stroke:0.2px #6a6a6a;">14</div>
<div class="u" style="left:131px;top:349px;width:46px;background:#7a7a7a;box-shadow:0 -1px 0 #ececec,0 1px 0 #7a7a7a"></div>
<div class="u" style="left:183px;top:349px;width:43px;background:#7a7a7a;box-shadow:0 -1px 0 #ececec,0 1px 0 #7a7a7a"></div>
<div class="u" style="left:231px;top:349px;width:23px;background:#7a7a7a;box-shadow:0 -1px 0 #ececec,0 1px 0 #7a7a7a"></div>
<div class="u" style="left:260px;top:349px;width:43px;background:#7a7a7a;box-shadow:0 -1px 0 #ececec,0 1px 0 #7a7a7a"></div>
<div class="u" style="left:309px;top:349px;width:43px;background:#7a7a7a;box-shadow:0 -1px 0 #ececec,0 1px 0 #7a7a7a"></div>
<div class="u" style="left:358px;top:349px;width:38px;background:#7a7a7a;box-shadow:0 -1px 0 #ececec,0 1px 0 #7a7a7a"></div>
<div class="u" style="left:401px;top:349px;width:24px;background:#7a7a7a;box-shadow:0 -1px 0 #ececec,0 1px 0 #7a7a7a"></div>
<div class="u" style="left:431px;top:349px;width:42px;background:#7a7a7a;box-shadow:0 -1px 0 #ececec,0 1px 0 #7a7a7a"></div>
<div class="u" style="left:480px;top:349px;width:42px;background:#7a7a7a;box-shadow:0 -1px 0 #ececec,0 1px 0 #7a7a7a"></div>
<div class="u" style="left:528px;top:349px;width:43px;background:#7a7a7a;box-shadow:0 -1px 0 #ececec,0 1px 0 #7a7a7a"></div>
<div class="u" style="left:577px;top:349px;width:42px;background:#7a7a7a;box-shadow:0 -1px 0 #ececec,0 1px 0 #7a7a7a"></div>
<div class="u" style="left:626px;top:349px;width:43px;background:#7a7a7a;box-shadow:0 -1px 0 #ececec,0 1px 0 #7a7a7a"></div>
<div class="t" style="left:-43.80px;top:356.34px;width:400px;text-align:center;font-size:9px;line-height:12px;color:#6a6a6a;transform:scaleX(0.87);transform-origin:center 0;-webkit-text-stroke:0.2px #6a6a6a;">20 <span style="font-size:5px;position:relative;top:-3px">1)</span></div>
<div class="t" style="left:4.30px;top:356.34px;width:400px;text-align:center;font-size:9px;line-height:12px;color:#6a6a6a;transform:scaleX(0.87);transform-origin:center 0;-webkit-text-stroke:0.2px #6a6a6a;">22</div>
<div class="t" style="left:42.90px;top:356.34px;width:400px;text-align:center;font-size:9px;line-height:12px;color:#6a6a6a;transform:scaleX(0.87);transform-origin:center 0;-webkit-text-stroke:0.2px #6a6a6a;">19</div>
<div class="t" style="left:252.00px;top:356.34px;width:400px;text-align:center;font-size:9px;line-height:12px;color:#6a6a6a;transform:scaleX(0.87);transform-origin:center 0;-webkit-text-stroke:0.2px #6a6a6a;">5</div>
<div class="t" style="left:300.80px;top:356.34px;width:400px;text-align:center;font-size:9px;line-height:12px;color:#6a6a6a;transform:scaleX(0.87);transform-origin:center 0;-webkit-text-stroke:0.2px #6a6a6a;">7</div>
<div class="t" style="left:349.50px;top:356.34px;width:400px;text-align:center;font-size:9px;line-height:12px;color:#6a6a6a;transform:scaleX(0.87);transform-origin:center 0;-webkit-text-stroke:0.2px #6a6a6a;">9</div>
<div class="t" style="left:398.30px;top:356.34px;width:400px;text-align:center;font-size:9px;line-height:12px;color:#6a6a6a;transform:scaleX(0.87);transform-origin:center 0;-webkit-text-stroke:0.2px #6a6a6a;">11</div>
<div class="t" style="left:447.10px;top:356.34px;width:400px;text-align:center;font-size:9px;line-height:12px;color:#6a6a6a;transform:scaleX(0.87);transform-origin:center 0;-webkit-text-stroke:0.2px #6a6a6a;">14</div>
<div class="u" style="left:131px;top:374px;width:46px;background:#7a7a7a;box-shadow:0 -1px 0 #cbcbcb,0 1px 0 #939393"></div>
<div class="u" style="left:183px;top:374px;width:43px;background:#7a7a7a;box-shadow:0 -1px 0 #cbcbcb,0 1px 0 #939393"></div>
<div class="u" style="left:231px;top:374px;width:23px;background:#7a7a7a;box-shadow:0 -1px 0 #cbcbcb,0 1px 0 #939393"></div>
<div class="u" style="left:260px;top:374px;width:43px;background:#7a7a7a;box-shadow:0 -1px 0 #cbcbcb,0 1px 0 #939393"></div>
<div class="u" style="left:309px;top:374px;width:43px;background:#7a7a7a;box-shadow:0 -1px 0 #cbcbcb,0 1px 0 #939393"></div>
<div class="u" style="left:358px;top:374px;width:38px;background:#7a7a7a;box-shadow:0 -1px 0 #cbcbcb,0 1px 0 #939393"></div>
<div class="u" style="left:401px;top:374px;width:24px;background:#7a7a7a;box-shadow:0 -1px 0 #cbcbcb,0 1px 0 #939393"></div>
<div class="u" style="left:431px;top:374px;width:42px;background:#7a7a7a;box-shadow:0 -1px 0 #cbcbcb,0 1px 0 #939393"></div>
<div class="u" style="left:480px;top:374px;width:42px;background:#7a7a7a;box-shadow:0 -1px 0 #cbcbcb,0 1px 0 #939393"></div>
<div class="u" style="left:528px;top:374px;width:43px;background:#7a7a7a;box-shadow:0 -1px 0 #cbcbcb,0 1px 0 #939393"></div>
<div class="u" style="left:577px;top:374px;width:42px;background:#7a7a7a;box-shadow:0 -1px 0 #cbcbcb,0 1px 0 #939393"></div>
<div class="u" style="left:626px;top:374px;width:43px;background:#7a7a7a;box-shadow:0 -1px 0 #cbcbcb,0 1px 0 #939393"></div>
<div class="t" style="left:81.50px;top:381.09px;width:400px;text-align:center;font-size:9px;line-height:12px;color:#6a6a6a;transform:scaleX(0.87);transform-origin:center 0;-webkit-text-stroke:0.2px #6a6a6a;">20</div>
<div class="t" style="left:130.40px;top:381.09px;width:400px;text-align:center;font-size:9px;line-height:12px;color:#6a6a6a;transform:scaleX(0.87);transform-origin:center 0;-webkit-text-stroke:0.2px #6a6a6a;">26,9</div>
<div class="t" style="left:176.80px;top:381.09px;width:400px;text-align:center;font-size:9px;line-height:12px;color:#6a6a6a;transform:scaleX(0.87);transform-origin:center 0;-webkit-text-stroke:0.2px #6a6a6a;">¾</div>
<div class="t" style="left:213.00px;top:381.09px;width:400px;text-align:center;font-size:9px;line-height:12px;color:#6a6a6a;transform:scaleX(0.87);transform-origin:center 0;-webkit-text-stroke:0.2px #6a6a6a;">21,7</div>
<div class="t" style="left:252.00px;top:381.09px;width:400px;text-align:center;font-size:9px;line-height:12px;color:#6a6a6a;transform:scaleX(0.87);transform-origin:center 0;-webkit-text-stroke:0.2px #6a6a6a;">11</div>
<div class="t" style="left:300.80px;top:381.09px;width:400px;text-align:center;font-size:9px;line-height:12px;color:#6a6a6a;transform:scaleX(0.87);transform-origin:center 0;-webkit-text-stroke:0.2px #6a6a6a;">15</div>
<div class="t" style="left:349.50px;top:381.09px;width:400px;text-align:center;font-size:9px;line-height:12px;color:#6a6a6a;transform:scaleX(0.87);transform-origin:center 0;-webkit-text-stroke:0.2px #6a6a6a;">19</div>
<div class="t" style="left:398.30px;top:381.09px;width:400px;text-align:center;font-size:9px;line-height:12px;color:#6a6a6a;transform:scaleX(0.87);transform-origin:center 0;-webkit-text-stroke:0.2px #6a6a6a;">24</div>
<div class="t" style="left:447.10px;top:381.09px;width:400px;text-align:center;font-size:9px;line-height:12px;color:#6a6a6a;transform:scaleX(0.87);transform-origin:center 0;-webkit-text-stroke:0.2px #6a6a6a;">30</div>
<div class="u" style="left:131px;top:399px;width:46px;background:#7a7a7a;box-shadow:0 -1px 0 #ababab,0 1px 0 #b4b4b4"></div>
<div class="u" style="left:183px;top:399px;width:43px;background:#7a7a7a;box-shadow:0 -1px 0 #ababab,0 1px 0 #b4b4b4"></div>
<div class="u" style="left:231px;top:399px;width:23px;background:#7a7a7a;box-shadow:0 -1px 0 #ababab,0 1px 0 #b4b4b4"></div>
<div class="u" style="left:260px;top:399px;width:43px;background:#7a7a7a;box-shadow:0 -1px 0 #ababab,0 1px 0 #b4b4b4"></div>
<div class="u" style="left:309px;top:399px;width:43px;background:#7a7a7a;box-shadow:0 -1px 0 #ababab,0 1px 0 #b4b4b4"></div>
<div class="u" style="left:358px;top:399px;width:38px;background:#7a7a7a;box-shadow:0 -1px 0 #ababab,0 1px 0 #b4b4b4"></div>
<div class="u" style="left:401px;top:399px;width:24px;background:#7a7a7a;box-shadow:0 -1px 0 #ababab,0 1px 0 #b4b4b4"></div>
<div class="u" style="left:431px;top:399px;width:42px;background:#7a7a7a;box-shadow:0 -1px 0 #ababab,0 1px 0 #b4b4b4"></div>
<div class="u" style="left:480px;top:399px;width:42px;background:#7a7a7a;box-shadow:0 -1px 0 #ababab,0 1px 0 #b4b4b4"></div>
<div class="u" style="left:528px;top:399px;width:43px;background:#7a7a7a;box-shadow:0 -1px 0 #ababab,0 1px 0 #b4b4b4"></div>
<div class="u" style="left:577px;top:399px;width:42px;background:#7a7a7a;box-shadow:0 -1px 0 #ababab,0 1px 0 #b4b4b4"></div>
<div class="u" style="left:626px;top:399px;width:43px;background:#7a7a7a;box-shadow:0 -1px 0 #ababab,0 1px 0 #b4b4b4"></div>
<div class="t" style="left:-43.80px;top:405.83px;width:400px;text-align:center;font-size:9px;line-height:12px;color:#6a6a6a;transform:scaleX(0.87);transform-origin:center 0;-webkit-text-stroke:0.2px #6a6a6a;">25</div>
<div class="t" style="left:4.30px;top:405.83px;width:400px;text-align:center;font-size:9px;line-height:12px;color:#6a6a6a;transform:scaleX(0.87);transform-origin:center 0;-webkit-text-stroke:0.2px #6a6a6a;">28</div>
<div class="t" style="left:42.90px;top:405.83px;width:400px;text-align:center;font-size:9px;line-height:12px;color:#6a6a6a;transform:scaleX(0.87);transform-origin:center 0;-webkit-text-stroke:0.2px #6a6a6a;">25</div>
<div class="t" style="left:252.00px;top:405.83px;width:400px;text-align:center;font-size:9px;line-height:12px;color:#6a6a6a;transform:scaleX(0.87);transform-origin:center 0;-webkit-text-stroke:0.2px #6a6a6a;">11</div>
<div class="t" style="left:300.80px;top:405.83px;width:400px;text-align:center;font-size:9px;line-height:12px;color:#6a6a6a;transform:scaleX(0.87);transform-origin:center 0;-webkit-text-stroke:0.2px #6a6a6a;">15</div>
<div class="t" style="left:349.50px;top:405.83px;width:400px;text-align:center;font-size:9px;line-height:12px;color:#6a6a6a;transform:scaleX(0.87);transform-origin:center 0;-webkit-text-stroke:0.2px #6a6a6a;">19</div>
<div class="t" style="left:398.30px;top:405.83px;width:400px;text-align:center;font-size:9px;line-height:12px;color:#6a6a6a;transform:scaleX(0.87);transform-origin:center 0;-webkit-text-stroke:0.2px #6a6a6a;">24</div>
<div class="t" style="left:447.10px;top:405.83px;width:400px;text-align:center;font-size:9px;line-height:12px;color:#6a6a6a;transform:scaleX(0.87);transform-origin:center 0;-webkit-text-stroke:0.2px #6a6a6a;">30</div>
<div class="u" style="left:131px;top:424px;width:46px;background:#7a7a7a;box-shadow:0 -1px 0 #8a8a8a,0 1px 0 #d4d4d4"></div>
<div class="u" style="left:183px;top:424px;width:43px;background:#7a7a7a;box-shadow:0 -1px 0 #8a8a8a,0 1px 0 #d4d4d4"></div>
<div class="u" style="left:231px;top:424px;width:23px;background:#7a7a7a;box-shadow:0 -1px 0 #8a8a8a,0 1px 0 #d4d4d4"></div>
<div class="u" style="left:260px;top:424px;width:43px;background:#7a7a7a;box-shadow:0 -1px 0 #8a8a8a,0 1px 0 #d4d4d4"></div>
<div class="u" style="left:309px;top:424px;width:43px;background:#7a7a7a;box-shadow:0 -1px 0 #8a8a8a,0 1px 0 #d4d4d4"></div>
<div class="u" style="left:358px;top:424px;width:38px;background:#7a7a7a;box-shadow:0 -1px 0 #8a8a8a,0 1px 0 #d4d4d4"></div>
<div class="u" style="left:401px;top:424px;width:24px;background:#7a7a7a;box-shadow:0 -1px 0 #8a8a8a,0 1px 0 #d4d4d4"></div>
<div class="u" style="left:431px;top:424px;width:42px;background:#7a7a7a;box-shadow:0 -1px 0 #8a8a8a,0 1px 0 #d4d4d4"></div>
<div class="u" style="left:480px;top:424px;width:42px;background:#7a7a7a;box-shadow:0 -1px 0 #8a8a8a,0 1px 0 #d4d4d4"></div>
<div class="u" style="left:528px;top:424px;width:43px;background:#7a7a7a;box-shadow:0 -1px 0 #8a8a8a,0 1px 0 #d4d4d4"></div>
<div class="u" style="left:577px;top:424px;width:42px;background:#7a7a7a;box-shadow:0 -1px 0 #8a8a8a,0 1px 0 #d4d4d4"></div>
<div class="u" style="left:626px;top:424px;width:43px;background:#7a7a7a;box-shadow:0 -1px 0 #8a8a8a,0 1px 0 #d4d4d4"></div>
<div class="t" style="left:81.50px;top:430.58px;width:400px;text-align:center;font-size:9px;line-height:12px;color:#6a6a6a;transform:scaleX(0.87);transform-origin:center 0;-webkit-text-stroke:0.2px #6a6a6a;">25</div>
<div class="t" style="left:130.40px;top:430.58px;width:400px;text-align:center;font-size:9px;line-height:12px;color:#6a6a6a;transform:scaleX(0.87);transform-origin:center 0;-webkit-text-stroke:0.2px #6a6a6a;">33,7</div>
<div class="t" style="left:176.80px;top:430.58px;width:400px;text-align:center;font-size:9px;line-height:12px;color:#6a6a6a;transform:scaleX(0.87);transform-origin:center 0;-webkit-text-stroke:0.2px #6a6a6a;">1</div>
<div class="t" style="left:213.00px;top:430.58px;width:400px;text-align:center;font-size:9px;line-height:12px;color:#6a6a6a;transform:scaleX(0.87);transform-origin:center 0;-webkit-text-stroke:0.2px #6a6a6a;">27,3</div>
<div class="t" style="left:252.00px;top:430.58px;width:400px;text-align:center;font-size:9px;line-height:12px;color:#6a6a6a;transform:scaleX(0.87);transform-origin:center 0;-webkit-text-stroke:0.2px #6a6a6a;">12</div>
<div class="t" style="left:300.80px;top:430.58px;width:400px;text-align:center;font-size:9px;line-height:12px;color:#6a6a6a;transform:scaleX(0.87);transform-origin:center 0;-webkit-text-stroke:0.2px #6a6a6a;">15</div>
<div class="t" style="left:349.50px;top:430.58px;width:400px;text-align:center;font-size:9px;line-height:12px;color:#6a6a6a;transform:scaleX(0.87);transform-origin:center 0;-webkit-text-stroke:0.2px #6a6a6a;">19</div>
<div class="t" style="left:398.30px;top:430.58px;width:400px;text-align:center;font-size:9px;line-height:12px;color:#6a6a6a;transform:scaleX(0.87);transform-origin:center 0;-webkit-text-stroke:0.2px #6a6a6a;">24</div>
<div class="t" style="left:447.10px;top:430.58px;width:400px;text-align:center;font-size:9px;line-height:12px;color:#6a6a6a;transform:scaleX(0.87);transform-origin:center 0;-webkit-text-stroke:0.2px #6a6a6a;">29</div>
<div class="u" style="left:131px;top:448px;width:46px;background:#7a7a7a;box-shadow:0 -1px 0 #eeeeee,0 1px 0 #7a7a7a"></div>
<div class="u" style="left:183px;top:448px;width:43px;background:#7a7a7a;box-shadow:0 -1px 0 #eeeeee,0 1px 0 #7a7a7a"></div>
<div class="u" style="left:231px;top:448px;width:23px;background:#7a7a7a;box-shadow:0 -1px 0 #eeeeee,0 1px 0 #7a7a7a"></div>
<div class="u" style="left:260px;top:448px;width:43px;background:#7a7a7a;box-shadow:0 -1px 0 #eeeeee,0 1px 0 #7a7a7a"></div>
<div class="u" style="left:309px;top:448px;width:43px;background:#7a7a7a;box-shadow:0 -1px 0 #eeeeee,0 1px 0 #7a7a7a"></div>
<div class="u" style="left:358px;top:448px;width:38px;background:#7a7a7a;box-shadow:0 -1px 0 #eeeeee,0 1px 0 #7a7a7a"></div>
<div class="u" style="left:401px;top:448px;width:24px;background:#7a7a7a;box-shadow:0 -1px 0 #eeeeee,0 1px 0 #7a7a7a"></div>
<div class="u" style="left:431px;top:448px;width:42px;background:#7a7a7a;box-shadow:0 -1px 0 #eeeeee,0 1px 0 #7a7a7a"></div>
<div class="u" style="left:480px;top:448px;width:42px;background:#7a7a7a;box-shadow:0 -1px 0 #eeeeee,0 1px 0 #7a7a7a"></div>
<div class="u" style="left:528px;top:448px;width:43px;background:#7a7a7a;box-shadow:0 -1px 0 #eeeeee,0 1px 0 #7a7a7a"></div>
<div class="u" style="left:577px;top:448px;width:42px;background:#7a7a7a;box-shadow:0 -1px 0 #eeeeee,0 1px 0 #7a7a7a"></div>
<div class="u" style="left:626px;top:448px;width:43px;background:#7a7a7a;box-shadow:0 -1px 0 #eeeeee,0 1px 0 #7a7a7a"></div>
</div></body></html>
